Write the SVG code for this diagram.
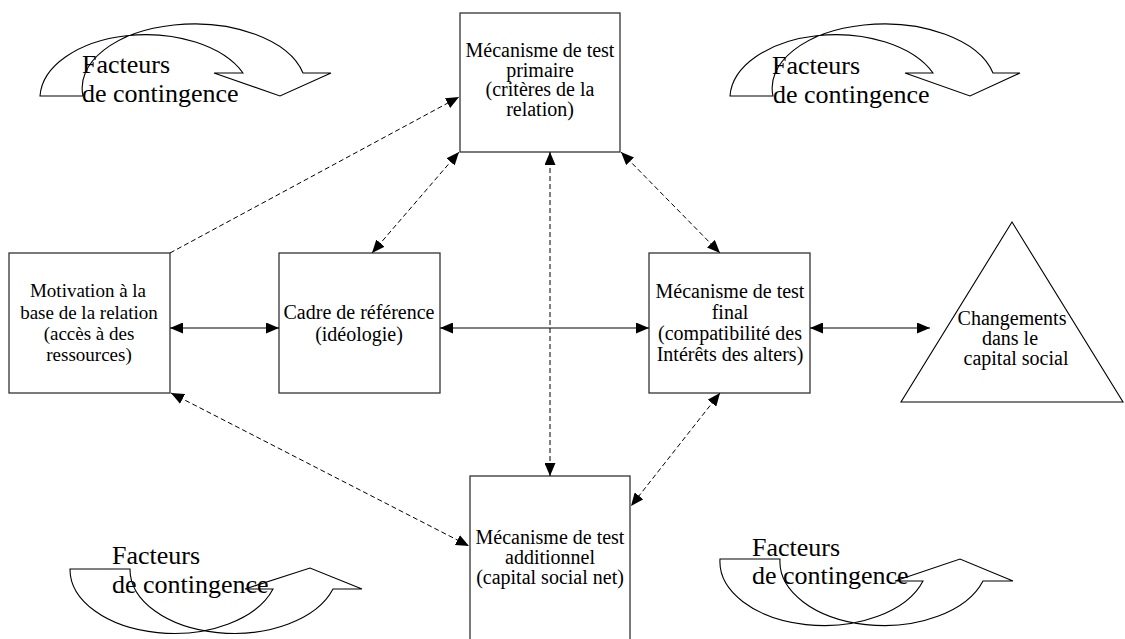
<svg xmlns="http://www.w3.org/2000/svg" width="1125" height="639" viewBox="0 0 1125 639">
<style>
text{font-family:"Liberation Serif","Times New Roman",serif;fill:#000;}
.lbl{font-size:20px;text-anchor:middle;}
.fac{font-size:26px;}
.box{fill:#fff;stroke:#333;stroke-width:1.3;}
.curve{fill:none;stroke:#000;stroke-width:1.1;}
.solid{fill:none;stroke:#000;stroke-width:1.2;}
.dash{fill:none;stroke:#000;stroke-width:1;stroke-dasharray:5 3;}
</style>
<defs>
<marker id="ah" markerUnits="userSpaceOnUse" markerWidth="13" markerHeight="11" refX="13" refY="5.5" orient="auto-start-reverse">
<path d="M0,0 L13,5.5 L0,11 Z" fill="#000"/>
</marker>
</defs>
<rect width="1125" height="639" fill="#fff"/>

<g id="facteurs-top-left">
<path class="curve" d="M40,96 H83 A112,64 0 0 1 303,73 H331 L280,96 L214,73 H243 A106,64 0 0 0 40,96 Z"/>
<text class="fac" x="82" y="73">Facteurs</text>
<text class="fac" x="82" y="102">de contingence</text>
</g>
<g id="facteurs-top-right">
<path class="curve" d="M730,96 H773 A112,64 0 0 1 993,73 H1020 L970,96 L905,73 H933 A106,64 0 0 0 730,96 Z"/>
<text class="fac" x="772" y="74">Facteurs</text>
<text class="fac" x="773" y="103">de contingence</text>
</g>
<g id="facteurs-bottom-left">
<path class="curve" d="M70,569 H130 A104,64 0 0 0 333,589 H362 L310,568 L245,589 H273 A104,64 0 0 1 70,569 Z"/>
<text class="fac" x="112" y="564">Facteurs</text>
<text class="fac" x="112" y="593">de contingence</text>
</g>
<g id="facteurs-bottom-right">
<path class="curve" d="M720,559 H780 A104,64 0 0 0 983,581 H1013 L960,559 L895,581 H923 A104,64 0 0 1 720,559 Z"/>
<text class="fac" x="752" y="556">Facteurs</text>
<text class="fac" x="752" y="584">de contingence</text>
</g>

<g id="node-primaire">
<rect class="box" x="460" y="13" width="160" height="139"/>
<text class="lbl" x="540" y="57">Mécanisme de test</text>
<text class="lbl" x="540" y="76.5">primaire</text>
<text class="lbl" x="540" y="96">(critères de la</text>
<text class="lbl" x="540" y="115.5">relation)</text>
</g>
<g id="node-motivation">
<rect class="box" x="9" y="253" width="161" height="140"/>
<text class="lbl" x="88" y="297" style="font-size:19px">Motivation à la</text>
<text class="lbl" x="89" y="319" style="font-size:19px">base de la relation</text>
<text class="lbl" x="89" y="340" style="font-size:19px">(accès à des</text>
<text class="lbl" x="89" y="361" style="font-size:19px">ressources)</text>
</g>
<g id="node-cadre">
<rect class="box" x="279" y="253" width="161" height="140"/>
<text class="lbl" x="359" y="319">Cadre de référence</text>
<text class="lbl" x="359" y="341">(idéologie)</text>
</g>
<g id="node-final">
<rect class="box" x="649" y="253" width="161" height="140"/>
<text class="lbl" x="730" y="298">Mécanisme de test</text>
<text class="lbl" x="730" y="319">final</text>
<text class="lbl" x="730" y="340">(compatibilité des</text>
<text class="lbl" x="730" y="361">Intérêts des alters)</text>
</g>
<g id="node-changements">
<path class="box" d="M1012,222 L1123,402 L901,402 Z" style="stroke:#000;stroke-width:1.1"/>
<text class="lbl" x="1012" y="325">Changements</text>
<text class="lbl" x="1010" y="345">dans le</text>
<text class="lbl" x="1016" y="365">capital social</text>
</g>
<g id="node-additionnel">
<rect class="box" x="470" y="476" width="160" height="175"/>
<text class="lbl" x="550" y="544">Mécanisme de test</text>
<text class="lbl" x="550" y="564">additionnel</text>
<text class="lbl" x="550" y="584">(capital social net)</text>
</g>

<g id="connectors">
<path class="solid" d="M170,328 H279" marker-start="url(#ah)" marker-end="url(#ah)"/>
<path class="solid" d="M440,328 H649" marker-start="url(#ah)" marker-end="url(#ah)"/>
<path class="solid" d="M810,328 H930" marker-start="url(#ah)" marker-end="url(#ah)"/>
<path class="dash" d="M170,253 L459,97" marker-end="url(#ah)"/>
<path class="dash" d="M372,253 L459,152" marker-start="url(#ah)" marker-end="url(#ah)"/>
<path class="dash" d="M550,152 V476" marker-start="url(#ah)" marker-end="url(#ah)"/>
<path class="dash" d="M621,152 L720,253" marker-start="url(#ah)" marker-end="url(#ah)"/>
<path class="dash" d="M171,393 L469,546" marker-start="url(#ah)" marker-end="url(#ah)"/>
<path class="dash" d="M720,393 L631,506" marker-start="url(#ah)" marker-end="url(#ah)"/>
</g>
</svg>
